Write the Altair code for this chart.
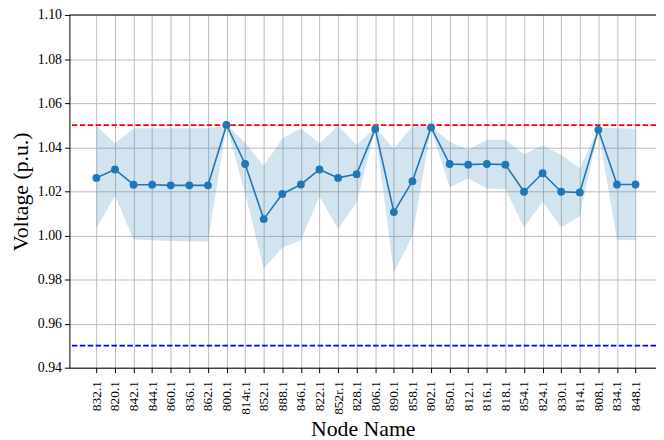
import altair as alt
import pandas as pd

names = ["832.1", "820.1", "842.1", "844.1", "860.1", "836.1", "862.1", "800.1",
         "814r.1", "852.1", "888.1", "846.1", "822.1", "852r.1", "828.1", "806.1",
         "890.1", "858.1", "802.1", "850.1", "812.1", "816.1", "818.1", "854.1",
         "824.1", "830.1", "814.1", "808.1", "834.1", "848.1"]

mean_v = [1.0261, 1.0299, 1.0230, 1.0230, 1.0227, 1.0227, 1.0227, 1.0501,
          1.0324, 1.0074, 1.0188, 1.0231, 1.0299, 1.0261, 1.0278, 1.0483,
          1.0106, 1.0246, 1.0490, 1.0324, 1.0321, 1.0324, 1.0321, 1.0198,
          1.0282, 1.0198, 1.0195, 1.0479, 1.0231, 1.0231]

upper_v = [1.0498, 1.0418, 1.0486, 1.0486, 1.0486, 1.0486, 1.0486, 1.0502,
           1.0420, 1.0315, 1.0441, 1.0486, 1.0418, 1.0498, 1.0410, 1.0490,
           1.0393, 1.0495, 1.0495, 1.0425, 1.0389, 1.0434, 1.0434, 1.0368,
           1.0408, 1.0366, 1.0303, 1.0488, 1.0486, 1.0484]

lower_v = [1.0034, 1.0179, 0.9981, 0.9978, 0.9975, 0.9974, 0.9972, 1.0499,
           1.0190, 0.9849, 0.9944, 0.9978, 1.0176, 1.0029, 1.0151, 1.0478,
           0.9832, 0.9996, 1.0485, 1.0219, 1.0258, 1.0213, 1.0211, 1.0036,
           1.0153, 1.0036, 1.0087, 1.0476, 0.9980, 0.9978]

y_ticks = [0.94, 0.96, 0.98, 1.00, 1.02, 1.04, 1.06, 1.08, 1.10]
upper_limit = 1.05
lower_limit = 0.95
y_top = 1.10

df = pd.DataFrame({
    "idx": list(range(len(names))),
    "node": names,
    "mean": mean_v,
    "upper": upper_v,
    "lower": lower_v,
})

label_expr = "[" + ",".join("'" + n + "'" for n in names) + "][datum.value]"

FONT = "Liberation Serif"
C0 = "#1f77b4"

x_axis = alt.Axis(
    title="Node Name",
    values=list(range(len(names))),
    labelExpr=label_expr,
    labelAngle=270,
    labelAlign="right",
    labelBaseline="middle",
    labelFont=FONT,
    labelFontSize=13.5,
    labelColor="black",
    labelPadding=8,
    labelOverlap=False,
    labelFlush=False,
    titleFont=FONT,
    titleFontSize=22,
    titleFontWeight="normal",
    titleColor="black",
    titlePadding=4,
    domainColor="black",
    tickColor="black",
    tickSize=5,
    gridColor="#bcbcbc",
    gridOpacity=1,
    grid=True,
)
x_scale = alt.Scale(domain=[-1.45, 30.1], nice=False, zero=False)

y_scale = alt.Scale(domain=[0.94, 1.10], nice=False, zero=False)
y_axis = alt.Axis(
    title="Voltage (p.u.)",
    values=y_ticks,
    format=".2f",
    labelFont=FONT,
    labelFontSize=14,
    labelColor="black",
    labelPadding=3,
    labelOverlap=False,
    labelFlush=False,
    titleFont=FONT,
    titleFontSize=22,
    titleFontWeight="normal",
    titleColor="black",
    titlePadding=5,
    domainColor="black",
    tickColor="black",
    tickSize=5,
    gridColor="#bcbcbc",
    gridOpacity=1,
    grid=True,
)

base = alt.Chart(df).encode(
    x=alt.X("idx:Q", scale=x_scale, axis=x_axis),
)

band = base.mark_area(color=C0, opacity=0.2).encode(
    y=alt.Y("lower:Q", scale=y_scale, axis=y_axis),
    y2="upper:Q",
)

line = base.mark_line(color=C0, strokeWidth=1.6).encode(
    y=alt.Y("mean:Q", scale=y_scale, axis=y_axis),
)

pts = base.mark_circle(color=C0, opacity=1, size=62).encode(
    y=alt.Y("mean:Q", scale=y_scale, axis=y_axis),
)

red = alt.Chart().mark_rule(color="red", strokeWidth=1.7, strokeDash=[5.5, 2.5]).encode(
    y=alt.datum(upper_limit)
)
blue = alt.Chart().mark_rule(color="blue", strokeWidth=1.7, strokeDash=[5.5, 2.5]).encode(
    y=alt.datum(lower_limit)
)
top = alt.Chart().mark_rule(color="black", strokeWidth=1).encode(
    y=alt.datum(y_top)
)

chart = alt.layer(band, red, blue, line, pts, top).properties(
    width=592,
    height=356,
    autosize=alt.AutoSizeParams(type="none"),
    padding={"left": 62, "top": 5, "right": 0, "bottom": 76},
).configure_view(
    strokeWidth=0,
).configure_axis(
    labelFont=FONT,
    titleFont=FONT,
    labelColor="black",
    titleColor="black",
    titleFontWeight="normal",
    domainColor="black",
    domainWidth=1,
    tickColor="black",
    tickSize=5,
    tickWidth=1,
    gridColor="#bcbcbc",
    gridWidth=1,
    gridOpacity=1,
)

chart.save("out.html", embed_options={"renderer": "svg", "actions": False})
